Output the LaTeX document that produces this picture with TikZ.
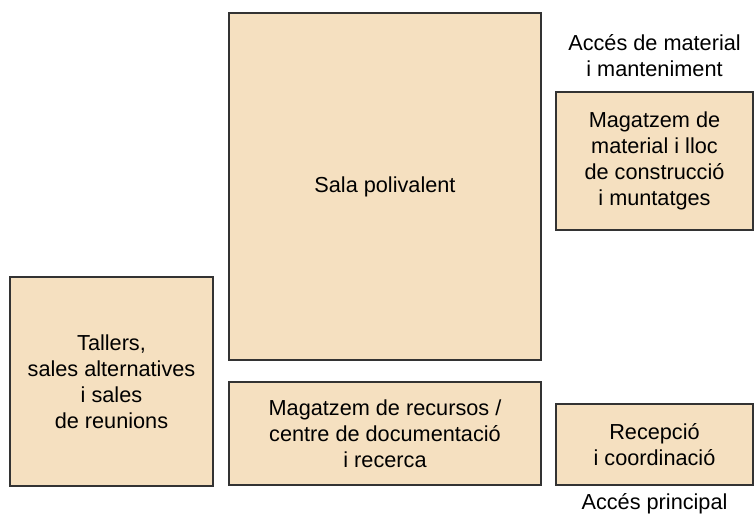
\documentclass[tikz,border=0pt]{standalone}
\usepackage{fontspec}
\setmainfont{Liberation Sans}
\usepackage{xcolor}
\usetikzlibrary{positioning}
\definecolor{roombeige}{HTML}{F5E0C0}
\definecolor{roomline}{HTML}{333333}

\begin{document}
\begin{tikzpicture}[
        x=1pt, y=1pt,
        node distance=0pt,
        room/.style={draw=roomline, line width=1.2pt, fill=roombeige, align=center, inner sep=2pt,
            font=\fontsize{21.7}{26}\selectfont},
        access/.style={align=center, font=\fontsize{21.7}{26}\selectfont}
    ]
        \useasboundingbox (0,0) rectangle (754,516);

        % Rooms of the plan
        \node (sala) [room, minimum width=312, minimum height=347] at (385, 329.5) {Sala polivalent};
        \node (magmaterial) [room, minimum width=197, minimum height=138] at (654.5, 355) {Magatzem de\\material i lloc\\de construcció\\i muntatges};
        \node (tallers) [room, minimum width=203, minimum height=209] at (111.5, 134.5) {Tallers,\\sales alternatives\\i sales\\de reunions};
        \node (recursos) [room, minimum width=312, minimum height=103] at (385, 82.5) {Magatzem de recursos /\\centre de documentació\\i recerca};
        \node (recepcio) [room, minimum width=197, minimum height=81] at (654.5, 71.5) {Recepció\\i coordinació};

        % Accesses
        \node (accmaterial) [access, above=11pt of magmaterial] {Accés de material\\i manteniment};
        \node (accprincipal) [access, below=4pt of recepcio] {Accés principal};

    \end{tikzpicture}
\end{document}
